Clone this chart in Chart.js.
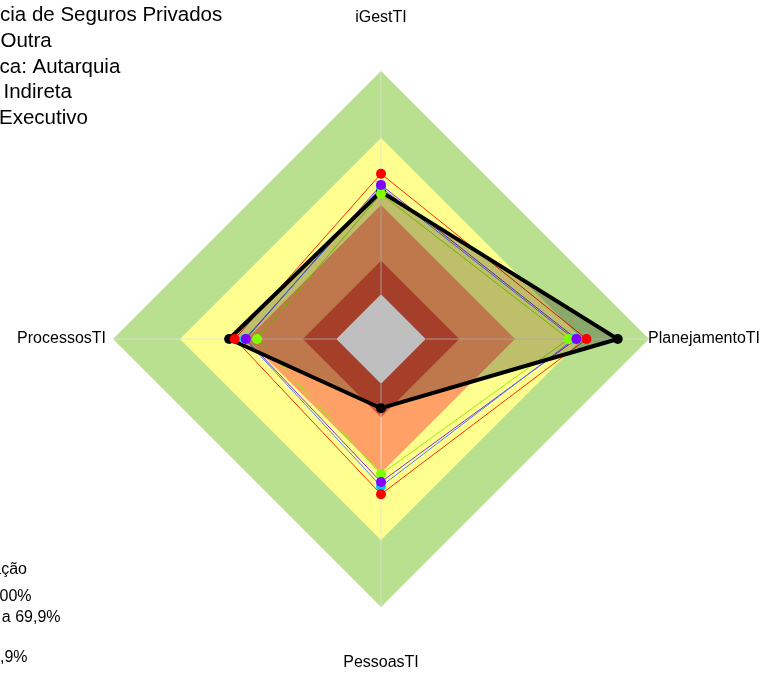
<!DOCTYPE html>
<html><head><meta charset="utf-8">
<style>html,body{margin:0;padding:0;background:#fff;overflow:hidden}canvas{display:block}</style>
<script src="https://cdn.jsdelivr.net/npm/chart.js@4/dist/chart.umd.min.js"></script>
</head><body>
<canvas id="c" width="762" height="673"></canvas>
<script>
// ---- data ----
const axisLabels = ['iGestTI', 'PlanejamentoTI', 'PessoasTI', 'ProcessosTI'];
const orgao = [46, 86, 11, 48];
const segmento = [54, 72, 49.5, 45.5];
const natureza = [49, 67.5, 44, 40.5];
const administracao = [48, 66.5, 46, 41];
const poder = [45, 64, 40.5, 35.5];
const bandLimits = [100, 70, 40, 15, 0];
const bandColors = ['#b9e08e', '#ffff8f', '#ffa066', '#dc5538', '#ffffff'];
const titleLines = [
  ['Órgão: Superintendên', 'cia de Seguros Privados'],
  ['Segmento: ', 'Outra'],
  ['Natureza jurídi', 'ca: Autarquia'],
  ['Administração: ', 'Indireta'],
  ['Poder: ', 'Executivo']
];
const legendLines = [
  'Legenda de classificação',
  'Aprimorado: 70 a 100%',
  'Intermediário: 40 a 69,9%',
  'Básico: 15 a 39,9%',
  'Inicial: 0 a 14,9%'
];

const series = [
  {name: 'Segmento: Outra', data: segmento, line: '#ff2a00', point: '#ff0000'},
  {name: 'Natureza jurídica: Autarquia', data: natureza, line: '#8a2be2', point: '#8000ff'},
  {name: 'Administração: Indireta', data: administracao, line: '#4d7fff', point: '#00c8ff'},
  {name: 'Poder: Executivo', data: poder, line: '#90f000', point: '#80ff00'}
];

const datasets = [];
bandLimits.forEach((lim, i) => {
  datasets.push({
    label: 'faixa ' + lim,
    data: axisLabels.map(() => lim),
    backgroundColor: bandColors[i],
    borderWidth: 0,
    pointRadius: 0,
    fill: 'start',
    order: 100 - i
  });
});
const WHITE_IDX = bandLimits.length - 1;
// colored lines (drawn under the black line)
series.forEach((s, i) => {
  datasets.push({
    label: s.name,
    data: s.data,
    borderColor: s.line,
    borderWidth: 1,
    backgroundColor: 'transparent',
    pointRadius: 0,
    fill: false,
    order: 60 - i
  });
});
// black series with fill
datasets.push({
  label: 'Órgão: Superintendência de Seguros Privados',
  data: orgao,
  borderColor: '#000000',
  borderWidth: 4,
  backgroundColor: 'rgba(0,0,0,0.25)',
  pointRadius: 0,
  fill: 'start',
  order: 40
});
// markers above all lines
datasets.push({
  label: 'Órgão (marcadores)',
  data: orgao,
  showLine: false,
  fill: false,
  backgroundColor: 'transparent',
  pointRadius: 5,
  pointBackgroundColor: '#000',
  pointBorderWidth: 0,
  order: 20
});
[series[2], series[3], series[1], series[0]].forEach((s, i) => {
  datasets.push({
    label: s.name + ' (marcadores)',
    data: s.data,
    showLine: false,
    fill: false,
    backgroundColor: 'transparent',
    pointRadius: 5,
    pointBackgroundColor: s.point,
    pointBorderWidth: 0,
    order: 19 - i
  });
});

const extras = {
  id: 'extras',
  afterDatasetDraw(chart, args) {
    if (args.index !== WHITE_IDX) return;
    const s = chart.scales.r, ctx = chart.ctx;
    ctx.save();
    ctx.strokeStyle = 'rgba(225,225,225,0.85)';
    ctx.lineWidth = 1;
    for (let i = 0; i < axisLabels.length; i++) {
      const a = s.getPointPositionForValue(i, 0);
      const b = s.getPointPositionForValue(i, 100);
      ctx.beginPath(); ctx.moveTo(a.x, a.y); ctx.lineTo(b.x, b.y); ctx.stroke();
    }
    ctx.restore();
  },
  afterDraw(chart) {
    const s = chart.scales.r, ctx = chart.ctx;
    ctx.save();
    ctx.fillStyle = '#000';
    // axis labels
    ctx.font = '16px "Liberation Sans", Arial, sans-serif';
    const offs = [[0, -53.5, 'center'], [-1, 0, 'left'], [0, 55.5, 'center'], [-7, 0, 'right']];
    axisLabels.forEach((t, i) => {
      const p = s.getPointPositionForValue(i, 100);
      ctx.textAlign = offs[i][2];
      ctx.textBaseline = 'middle';
      ctx.fillText(t, p.x + offs[i][0], p.y + offs[i][1]);
    });
    // title block (cut at left edge)
    ctx.font = '20.5px "Liberation Sans", Arial, sans-serif';
    ctx.textAlign = 'left';
    ctx.textBaseline = 'alphabetic';
    const starts = [0, 0.5, -0.5, 3.5, -1];
    const base = [21, 46.8, 72.5, 98.3, 124];
    titleLines.forEach((l, i) => {
      const w = ctx.measureText(l[0]).width;
      ctx.fillText(l[0] + l[1], starts[i] - w, base[i]);
    });
    // classification legend (cut at left edge)
    ctx.font = '16px "Liberation Sans", Arial, sans-serif';
    ctx.textAlign = 'right';
    const ends = [27, 31.5, 60.5, -3, 27.5];
    const lb = [574, 601, 621.5, 642, 662];
    legendLines.forEach((t, i) => ctx.fillText(t, ends[i], lb[i]));
    ctx.restore();
  }
};

new Chart(document.getElementById('c'), {
  type: 'radar',
  data: {labels: axisLabels, datasets},
  options: {
    responsive: false,
    animation: false,
    layout: {padding: {left: 113, right: 113, top: 71, bottom: 66}},
    elements: {line: {tension: 0}},
    plugins: {legend: {display: false}, tooltip: {enabled: false}, title: {display: false}},
    scales: {
      r: {
        min: -20, max: 100,
        ticks: {display: false},
        grid: {display: false},
        angleLines: {display: false},
        pointLabels: {display: false}
      }
    }
  },
  plugins: [extras]
});
</script>
</body></html>
